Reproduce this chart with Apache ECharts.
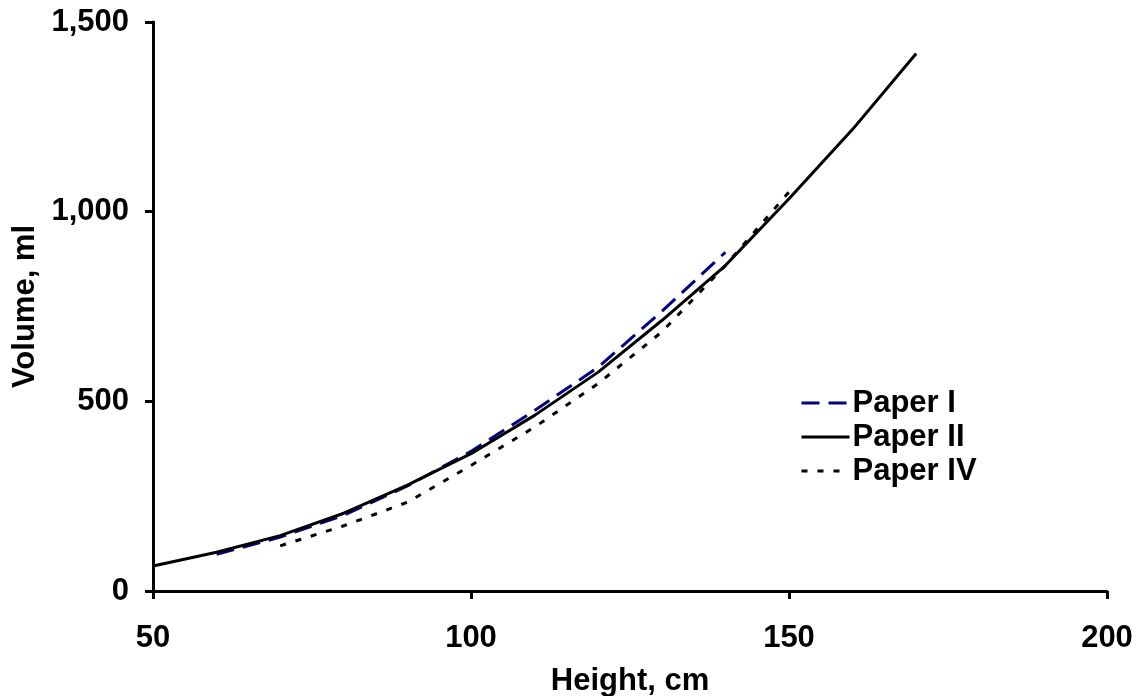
<!DOCTYPE html>
<html>
<head>
<meta charset="utf-8">
<script src="https://cdn.jsdelivr.net/npm/echarts@6/dist/echarts.min.js"></script>
<style>html,body{margin:0;padding:0;background:#fff}#c{width:1143px;height:696px}</style>
</head>
<body>
<div id="c"></div>
<script>
const heightsI = [60, 70, 80, 90, 100, 110, 120, 130, 140];
const volumesI = [97, 142, 200, 277, 368, 476, 590, 737, 893];
const heightsII = [50, 60, 70, 80, 90, 100, 110, 120, 130, 140, 150, 160, 170];
const volumesII = [66, 102, 146, 205, 279, 362, 463, 577, 713, 858, 1034, 1217, 1417];
const heightsIV = [70, 80, 90, 100, 110, 120, 130, 140, 150];
const volumesIV = [119, 172, 234, 331, 432, 547, 683, 858, 1052];
const xTicks = [50, 100, 150, 200];
const yTicks = [0, 500, 1000, 1500];
const seriesNames = ['Paper I', 'Paper II', 'Paper IV'];

const pair = (xs, ys) => xs.map((x, i) => [x, ys[i]]);
const font = 'Liberation Sans, Arial, sans-serif';
const FS = 31;

const chart = echarts.init(document.getElementById('c'), null, {renderer: 'canvas'});
chart.setOption({
  backgroundColor: '#fff',
  animation: false,
  grid: {left: 153, right: 36, top: 22, bottom: 105, containLabel: false, outerBoundsMode: 'none'},
  legend: {
    orient: 'vertical',
    left: 795, top: 381,
    itemWidth: 48, itemHeight: 14, itemGap: 0,
    data: seriesNames,
    itemStyle: {opacity: 0},
    lineStyle: {width: 3},
    textStyle: {fontFamily: font, fontWeight: 'bold', fontSize: FS, color: '#000', padding: [0, 0, 0, -2], lineHeight: 34}
  },
  xAxis: {
    type: 'value', min: xTicks[0], max: xTicks[xTicks.length - 1], interval: 50,
    name: 'Height, cm', nameLocation: 'middle', nameGap: 75,
    nameTextStyle: {fontFamily: font, fontWeight: 'bold', fontSize: FS, color: '#000'},
    axisLine: {show: true, lineStyle: {color: '#000', width: 3}},
    axisTick: {show: true, length: 8, lineStyle: {color: '#000', width: 3}},
    axisLabel: {margin: 32, fontFamily: font, fontWeight: 'bold', fontSize: FS, color: '#000'},
    splitLine: {show: false}
  },
  yAxis: {
    type: 'value', min: yTicks[0], max: yTicks[yTicks.length - 1], interval: 500,
    name: 'Volume, ml', nameLocation: 'middle', nameGap: 112, nameRotate: 90,
    nameTextStyle: {fontFamily: font, fontWeight: 'bold', fontSize: FS, color: '#000'},
    axisLine: {show: true, lineStyle: {color: '#000', width: 3}},
    axisTick: {show: true, length: 8, lineStyle: {color: '#000', width: 3}},
    axisLabel: {margin: 24, fontFamily: font, fontWeight: 'bold', fontSize: FS, color: '#000',
      formatter: v => v.toLocaleString('en-US')},
    splitLine: {show: false}
  },
  series: [
    {name: seriesNames[0], type: 'line', data: pair(heightsI, volumesI), symbol: 'none', z: 3,
     lineStyle: {color: '#000080', width: 3, type: [18, 9]}, itemStyle: {color: '#000080'}},
    {name: seriesNames[1], type: 'line', data: pair(heightsII, volumesII), symbol: 'none', z: 4,
     lineStyle: {color: '#000', width: 3, type: 'solid'}, itemStyle: {color: '#000'}},
    {name: seriesNames[2], type: 'line', data: pair(heightsIV, volumesIV), symbol: 'none', z: 2,
     lineStyle: {color: '#000', width: 3, type: [6, 10]}, itemStyle: {color: '#000'}}
  ]
});
</script>
</body>
</html>
